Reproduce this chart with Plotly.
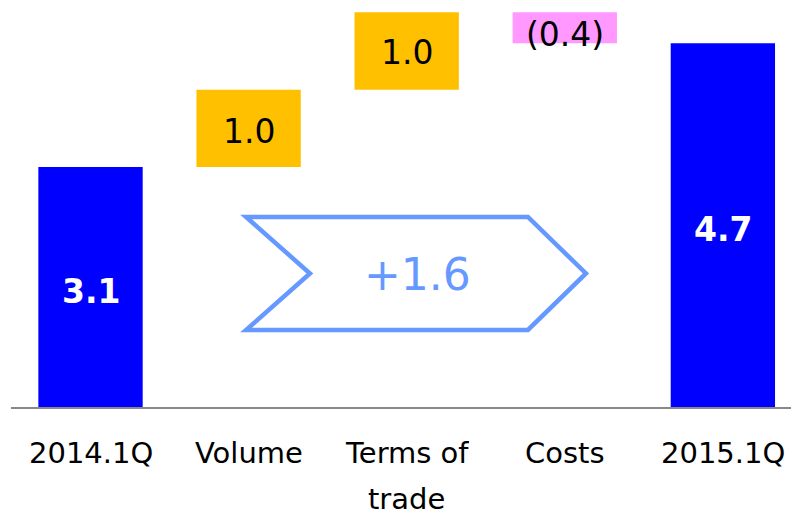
import plotly.graph_objects as go

# ---- data ----
categories = ["2014.1Q", "Volume", "Terms of trade", "Costs", "2015.1Q"]
tick_labels = ["2014.1Q", "Volume", "Terms of\ntrade", "Costs", "2015.1Q"]
measures = ["absolute", "relative", "relative", "relative", "total"]
values = [3.1, 1.0, 1.0, -0.4, 0]
value_labels = ["3.1", "1.0", "1.0", "(0.4)", "4.7"]
total_change_label = "+1.6"

# ---- styles ----
BLUE = "#0000FF"
GOLD = "#FFC000"
PINK = "#FF99FF"
ARROW = "#6699FF"
FONT = "DejaVu Sans"

x = list(range(len(categories)))

fig = go.Figure()
fig.add_trace(go.Waterfall(
    x=x,
    y=values,
    measure=measures,
    width=0.66,
    connector=dict(visible=False),
    increasing=dict(marker=dict(color=GOLD, line=dict(width=0))),
    decreasing=dict(marker=dict(color=PINK, line=dict(width=0))),
    totals=dict(marker=dict(color=BLUE, line=dict(width=0))),
    hoverinfo="skip",
    showlegend=False,
))

# compute bar bottoms/tops for label placement
bottoms, tops = [], []
running = 0.0
for m, v in zip(measures, values):
    if m == "absolute":
        b, t = 0.0, v
        running = v
    elif m == "total":
        b, t = 0.0, running
    else:
        b, t = running, running + v
        running += v
    bottoms.append(min(b, t))
    tops.append(max(b, t))

label_styles = [
    dict(color="white", bold=True, shift=-4),
    dict(color="black", bold=False, shift=-3),
    dict(color="black", bold=False, shift=-2),
    dict(color="black", bold=False, shift=-7),
    dict(color="white", bold=True, shift=-4),
]

annotations = []
for i, (lab, st) in enumerate(zip(value_labels, label_styles)):
    txt = f"<b>{lab}</b>" if st["bold"] else lab
    annotations.append(dict(
        x=i, y=(bottoms[i] + tops[i]) / 2, xref="x", yref="y",
        text=txt, showarrow=False, yshift=st["shift"],
        font=dict(family=FONT, size=33, color=st["color"]),
        xanchor="center", yanchor="middle",
    ))

# category labels below axis
for i, lab in enumerate(tick_labels):
    for j, line in enumerate(lab.split("\n")):
        annotations.append(dict(
            x=i, y=0, xref="x", yref="y", text=line, showarrow=False,
            yshift=-46 - 46 * j, height=32,
            font=dict(family=FONT, size=29, color="black"),
            xanchor="center", yanchor="middle",
        ))

# chevron arrow (decoration) and total change text
ax0, axn, ax1, axt = 0.984, 1.388, 2.767, 3.134
ay0, aym, ay1 = 0.995, 1.725, 2.455
path = (f"M {ax0},{ay1} L {ax1},{ay1} L {axt},{aym} L {ax1},{ay0} "
        f"L {ax0},{ay0} L {axn},{aym} Z")
fig.add_shape(type="path", path=path, xref="x", yref="y",
              line=dict(color=ARROW, width=4.5), fillcolor="rgba(0,0,0,0)",
              layer="above")
annotations.append(dict(
    x=2.071, y=1.712, xref="x", yref="y", text=total_change_label,
    showarrow=False, font=dict(family=FONT, size=44, color=ARROW),
    xanchor="center", yanchor="middle",
))

fig.update_layout(
    width=791, height=512,
    margin=dict(l=11, r=0, t=0, b=105),
    paper_bgcolor="white", plot_bgcolor="white",
    annotations=annotations,
    xaxis=dict(range=[-0.503, 4.431], showticklabels=False, ticks="",
               showgrid=False, zeroline=False, showline=True,
               linecolor="#888888", linewidth=2, fixedrange=True),
    yaxis=dict(range=[0, 5.258], visible=False, showgrid=False,
               zeroline=False, fixedrange=True),
    showlegend=False,
)

fig.write_html(
    "out.html",
    config={"displayModeBar": False},
    post_script="document.body.style.margin='0';document.body.style.overflow='hidden';",
)
